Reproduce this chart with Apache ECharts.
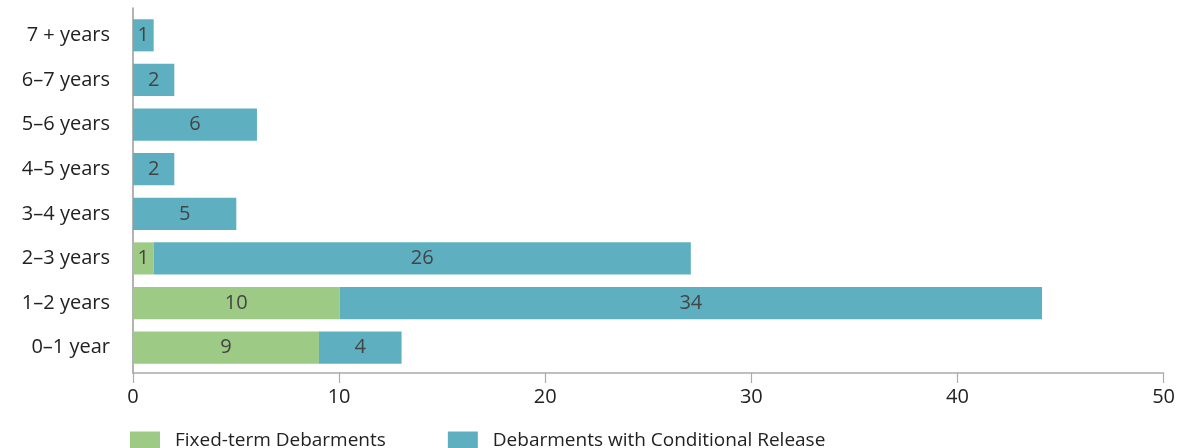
<!DOCTYPE html>
<html>
<head>
<meta charset="utf-8">
<script src="https://cdn.jsdelivr.net/npm/echarts@6/dist/echarts.min.js"></script>
<style>
  html, body { margin: 0; padding: 0; background: #fff; }
  #chart { width: 1178px; height: 448px; }
</style>
</head>
<body>
<div id="chart"></div>
<script>
// Debarment length bands, listed bottom to top
const categories = ['0–1 year', '1–2 years', '2–3 years', '3–4 years', '4–5 years', '5–6 years', '6–7 years', '7 + years'];
const fixedTerm = [9, 10, 1, 0, 0, 0, 0, 0];
const conditionalRelease = [4, 34, 26, 5, 2, 6, 2, 1];
const seriesNames = ['Fixed-term Debarments', 'Debarments with Conditional Release'];
const xTicks = { min: 0, max: 50, interval: 10 };

const FONT = 'Open Sans';
const GREEN = '#9dca85';
const TEAL = '#5eafc0';

const chart = echarts.init(document.getElementById('chart'), null, { renderer: 'canvas' });

const barLabel = {
  show: true,
  position: 'inside',
  color: '#444',
  fontFamily: FONT,
  fontSize: 20,
  formatter: p => (p.value ? String(p.value) : '')
};

chart.setOption({
  animation: false,
  textStyle: { fontFamily: FONT },
  grid: [
    // frame holding the visible axes
    { left: 133, right: 12, top: 8, bottom: 75 },
    // plotting area for the bars
    { left: 133, right: 12, top: 13, bottom: 78 }
  ],
  xAxis: [
    {
      gridIndex: 0,
      type: 'value',
      min: xTicks.min, max: xTicks.max, interval: xTicks.interval,
      axisLine: { show: true, lineStyle: { color: '#aaa', width: 1.5 } },
      axisTick: { show: true, length: 10, lineStyle: { color: '#aaa', width: 1.2 } },
      axisLabel: { color: '#222', fontSize: 20, margin: 14, fontFamily: FONT },
      splitLine: { show: false }
    },
    {
      gridIndex: 1,
      type: 'value',
      min: xTicks.min, max: xTicks.max,
      show: false
    }
  ],
  yAxis: [
    {
      gridIndex: 0,
      type: 'value',
      axisLine: { show: true, lineStyle: { color: '#999', width: 1.5 } },
      axisTick: { show: false },
      axisLabel: { show: false },
      splitLine: { show: false }
    },
    {
      gridIndex: 1,
      type: 'category',
      data: categories,
      axisLine: { show: false },
      axisTick: { show: false },
      axisLabel: { color: '#222', fontSize: 20, margin: 23, fontFamily: FONT },
      splitLine: { show: false }
    }
  ],
  legend: {
    left: 125,
    top: 426,
    itemWidth: 30,
    itemHeight: 18,
    itemGap: 62,
    icon: 'rect',
    textStyle: { color: '#222', fontSize: 19, fontFamily: FONT, padding: [0, 0, 0, 10] },
    data: seriesNames
  },
  series: [
    {
      name: seriesNames[0],
      type: 'bar',
      stack: 'total',
      xAxisIndex: 1,
      yAxisIndex: 1,
      data: fixedTerm,
      barCategoryGap: '28%',
      itemStyle: { color: GREEN },
      label: barLabel
    },
    {
      name: seriesNames[1],
      type: 'bar',
      stack: 'total',
      xAxisIndex: 1,
      yAxisIndex: 1,
      data: conditionalRelease,
      barCategoryGap: '28%',
      itemStyle: { color: TEAL },
      label: barLabel
    }
  ]
});
</script>
</body>
</html>
